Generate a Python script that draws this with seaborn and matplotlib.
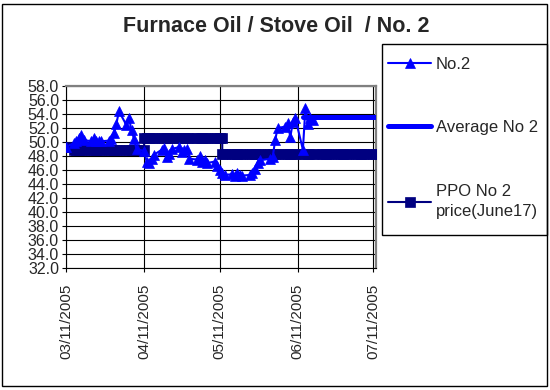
import pandas as pd
import numpy as np
import matplotlib
matplotlib.use("Agg")
import matplotlib.pyplot as plt
import matplotlib.dates as mdates
from matplotlib.patches import Rectangle
import seaborn as sns

# --- data ---
no2_dates = [
    "2005-03-11", "2005-03-14", "2005-03-15", "2005-03-16", "2005-03-17", "2005-03-18",
    "2005-03-21", "2005-03-22", "2005-03-23", "2005-03-24", "2005-03-25", "2005-03-28",
    "2005-03-29", "2005-03-30", "2005-03-31", "2005-04-01", "2005-04-04", "2005-04-05",
    "2005-04-06", "2005-04-07", "2005-04-08", "2005-04-11", "2005-04-12", "2005-04-13",
    "2005-04-14", "2005-04-15", "2005-04-18", "2005-04-19", "2005-04-20", "2005-04-21",
    "2005-04-22", "2005-04-25", "2005-04-26", "2005-04-27", "2005-04-28", "2005-04-29",
    "2005-05-02", "2005-05-03", "2005-05-04", "2005-05-05", "2005-05-06", "2005-05-09",
    "2005-05-10", "2005-05-11", "2005-05-12", "2005-05-13", "2005-05-16", "2005-05-17",
    "2005-05-18", "2005-05-19", "2005-05-20", "2005-05-23", "2005-05-24", "2005-05-25",
    "2005-05-26", "2005-05-27", "2005-05-31", "2005-06-01", "2005-06-02", "2005-06-03",
    "2005-06-06", "2005-06-07", "2005-06-08", "2005-06-09", "2005-06-10", "2005-06-13",
    "2005-06-14", "2005-06-15", "2005-06-16", "2005-06-17",
]
no2_price = [
    49.3, 49.8, 50.2, 50.5, 51.0, 50.3,
    50.1, 50.5, 50.2, 50.1, 50.1, 50.2,
    50.4, 51.3, 52.6, 54.4, 52.4, 53.4,
    51.7, 50.4, 49.0, 48.7, 47.2, 47.0,
    47.6, 48.2, 48.9, 49.1, 47.8, 48.3,
    49.0, 49.3, 48.5, 48.8, 49.0, 47.6,
    47.5, 48.0, 47.2, 47.4, 47.0, 47.2,
    46.6, 46.0, 45.6, 45.3, 45.4, 45.2,
    45.6, 45.3, 45.2, 45.3, 45.6, 46.2,
    47.0, 47.4, 47.6, 47.8, 50.3, 52.0,
    52.2, 52.7, 50.7, 52.8, 53.4, 48.9,
    54.9, 52.6, 53.4, 53.2,
]

# PPO price: constant levels between dates
ppo_start = ["2005-03-11", "2005-03-14", "2005-04-11", "2005-05-12"]
ppo_end = ["2005-03-11", "2005-04-11", "2005-05-12", "2005-07-12"]
ppo_level = [49.3, 48.9, 50.6, 48.3]

avg_start = "2005-06-13"
avg_end = "2005-07-12"
avg_level = 53.5

x_ticks = ["2005-03-11", "2005-04-11", "2005-05-11", "2005-06-11", "2005-07-11"]
y_ticks = np.arange(32, 58.1, 2)

no2 = pd.DataFrame({"date": pd.to_datetime(no2_dates), "price": no2_price})
ppo = pd.concat([pd.DataFrame({"date": pd.bdate_range(s, e), "price": v})
                 for s, e, v in zip(ppo_start, ppo_end, ppo_level)], ignore_index=True)
avg = pd.DataFrame({"date": pd.to_datetime([avg_start, avg_end]), "price": [avg_level, avg_level]})

# --- plot ---
sns.set_style("white")
plt.rcParams["font.family"] = ["Liberation Sans", "DejaVu Sans"]

fig = plt.figure(figsize=(5.5, 3.9), dpi=100)
ax = fig.add_axes([0.12, 0.3128, 0.5636, 0.4667])

blue = "#0000FF"
navy = "#000080"

sns.lineplot(data=avg, x="date", y="price", ax=ax, color=blue, linewidth=3.6,
             estimator=None, sort=False, label="Average No 2", zorder=3)
sns.lineplot(data=ppo, x="date", y="price", ax=ax, color=navy, linewidth=1.5,
             marker="s", markersize=6.5, markeredgecolor=navy, markeredgewidth=0.5,
             estimator=None, sort=False, label="PPO No 2\nprice(June17)", zorder=4)
sns.lineplot(data=no2, x="date", y="price", ax=ax, color=blue, linewidth=1.5,
             marker="^", markersize=7, markeredgecolor=blue, markeredgewidth=0.5,
             estimator=None, sort=False, label="No.2", zorder=5)

handles, labels = ax.get_legend_handles_labels()
ax.get_legend().remove()
order = [labels.index(l) for l in ["No.2", "Average No 2", "PPO No 2\nprice(June17)"]]

ax.set_xlim(pd.Timestamp("2005-03-11"), pd.Timestamp("2005-07-12"))
ax.set_ylim(32, 58)
ax.set_xticks(pd.to_datetime(x_ticks))
ax.xaxis.set_major_formatter(mdates.DateFormatter("%m/%d/%Y"))
ax.set_yticks(y_ticks)
ax.set_yticklabels([f"{v:.1f}" for v in y_ticks])
ax.set_xlabel("")
ax.set_ylabel("")

ax.grid(True, color="black", linewidth=0.8)
ax.set_axisbelow(True)
ax.tick_params(axis="y", direction="out", length=3, width=0.8, color="black",
               labelsize=11.5, pad=2, left=True)
ax.tick_params(axis="x", direction="out", length=3, width=0.8, color="black",
               labelsize=11, pad=8, rotation=90, bottom=True)
for side in ["left", "bottom"]:
    ax.spines[side].set_color("black")
    ax.spines[side].set_linewidth(0.8)
for side in ["top", "right"]:
    ax.spines[side].set_color("#808080")
    ax.spines[side].set_linewidth(1.6)

fig.text(0.502, 1 - 27 / 390, "Furnace Oil / Stove Oil  / No. 2",
         ha="center", va="center", fontsize=15.5, fontweight="bold")

# legend box drawn separately, entries placed inside it
fig.patches.append(Rectangle((382 / 550, 1 - 235 / 390), 165 / 550, 191 / 390,
                             transform=fig.transFigure, fill=False,
                             edgecolor="black", linewidth=1.0, zorder=5))
leg = fig.legend([handles[i] for i in order], [labels[i] for i in order],
                 loc="upper left", bbox_to_anchor=(388 / 550, 1 - 57 / 390),
                 frameon=False, fontsize=12, labelspacing=2.9, handlelength=2.6,
                 handletextpad=0.25, borderpad=0, borderaxespad=0)
for t in leg.get_texts():
    t.set_linespacing(1.45)

fig.patches.append(Rectangle((1.5 / 550, 1 - 386 / 390), 545.5 / 550, 382.5 / 390,
                             transform=fig.transFigure, fill=False,
                             edgecolor="black", linewidth=1.0))

fig.savefig("out.png", dpi=100)
